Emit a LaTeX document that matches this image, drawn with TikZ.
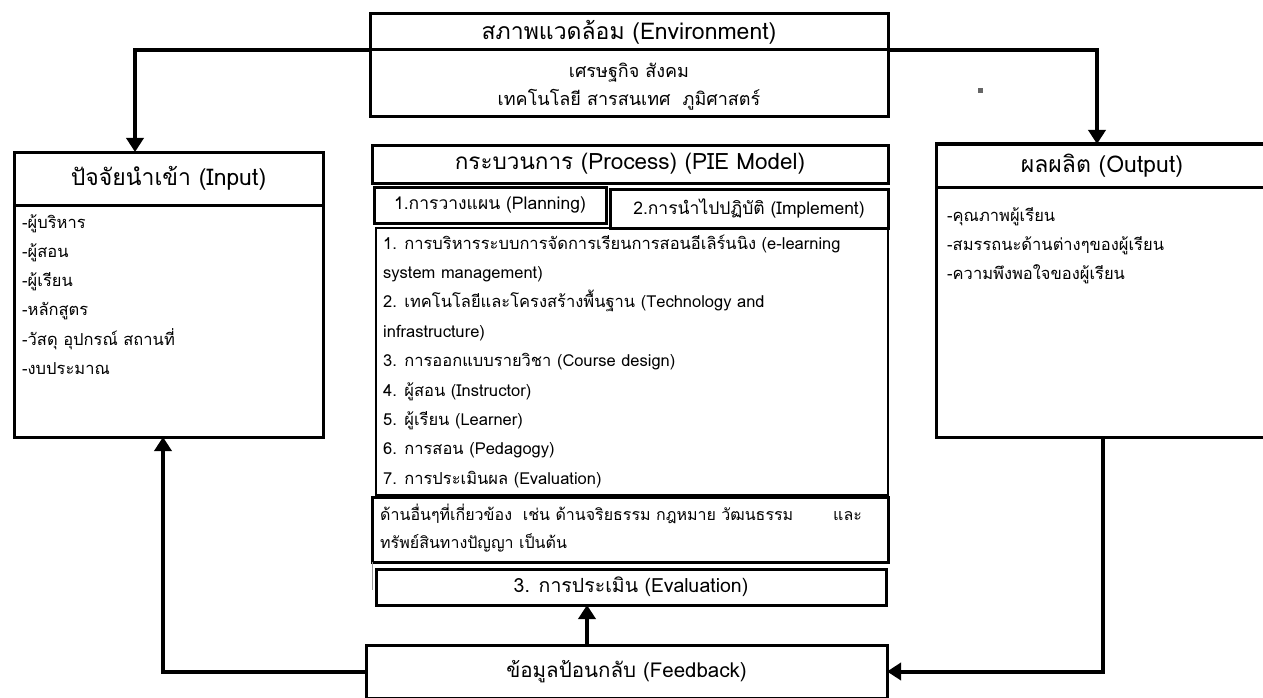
\documentclass[tikz,border=0pt]{standalone}
\usepackage{fontspec}
\setmainfont[Script=Thai]{Loma}
\usetikzlibrary{arrows.meta}
\begin{document}
\begin{tikzpicture}[x=1pt,y=-1pt,
  box/.style={draw, line width=3pt, inner sep=0pt, outer sep=0pt, anchor=north west, align=center},
  ttl/.style={font=\fontsize{23}{26}\selectfont},
  sub/.style={font=\fontsize{17.5}{20}\selectfont},
  itm/.style={font=\fontsize{16.5}{19}\selectfont, inner sep=0pt, anchor=base west},
  conn/.style={line width=4pt, -{Triangle[length=14pt,width=17pt]}}]
\useasboundingbox (0,0) rectangle (1263,698);
% environment
\node[box,ttl,minimum width=518pt,minimum height=36pt] (envT) at (370,14) {สภาพแวดล้อม (Environment)};
\node[box,minimum width=518pt,minimum height=67pt] (envB) at (370,50) {};
\node[font=\fontsize{18}{28}\selectfont,align=center,inner sep=0pt] (envTx) at (629,87) {เศรษฐกิจ สังคม\\เทคโนโลยี สารสนเทศ\ \ ภูมิศาสตร์};
% input
\node[box,ttl,minimum width=309pt,minimum height=53pt] (inT) at (14,152) {ปัจจัยนำเข้า (Input)};
\node[box,minimum width=309pt,minimum height=232pt] (inB) at (14,205) {};
% output
\node[box,ttl,minimum width=332pt,minimum height=43pt] (outT) at (936,144) {ผลผลิต (Output)};
\node[box,minimum width=332pt,minimum height=250pt] (outB) at (936,187) {};
% process
\node[box,ttl,font=\fontsize{22.5}{26}\selectfont,minimum width=516pt,minimum height=38pt] (procT) at (372,145) {กระบวนการ (Process) (PIE Model)};
\node[box,sub,minimum width=232pt,minimum height=36pt] (plan) at (374,187) {1.การวางแผน (Planning)};
\node[box,sub,minimum width=278pt,minimum height=39pt] (impl) at (610,189) {2.การนำไปปฏิบัติ (Implement)};
\node[box,line width=1.8pt,minimum width=512pt,minimum height=267pt] (cont) at (376,228) {};
\node[box,minimum width=516pt,minimum height=65pt] (oth) at (372,497) {};
\node[box,font=\fontsize{19.5}{22}\selectfont,minimum width=510pt,minimum height=36pt] (eval) at (376,569) {3. การประเมิน (Evaluation)};
% feedback
\node[box,font=\fontsize{20.5}{24}\selectfont,minimum width=521pt,minimum height=53pt] (fb) at (366,645) {ข้อมูลป้อนกลับ (Feedback)};
% list items
\foreach[count=\i] \t in {-ผู้บริหาร,-ผู้สอน,-ผู้เรียน,-หลักสูตร,-วัสดุ อุปกรณ์ สถานที่,-งบประมาณ}
  \node[itm] (in\i) at (22,{228+29.3*(\i-1)}) {\t};
\foreach[count=\i] \t in {-คุณภาพผู้เรียน,-สมรรถนะด้านต่างๆของผู้เรียน,-ความพึงพอใจของผู้เรียน}
  \node[itm] (out\i) at (947,{221+29.2*(\i-1)}) {\t};
\foreach[count=\i] \t in {1. การบริหารระบบการจัดการเรียนการสอนอีเลิร์นนิง (e-learning,
  system management),2. เทคโนโลยีและโครงสร้างพื้นฐาน (Technology and,infrastructure),
  3. การออกแบบรายวิชา (Course design),4. ผู้สอน (Instructor),5. ผู้เรียน (Learner),
  6. การสอน (Pedagogy),7. การประเมินผล (Evaluation)}
  \node[itm] (c\i) at (383,{249+29.4*(\i-1)}) {\t};
\node[itm,font=\fontsize{16}{19}\selectfont] (o1) at (380,520) {ด้านอื่นๆที่เกี่ยวข้อง\ \ เช่น ด้านจริยธรรม กฎหมาย วัฒนธรรม\hspace{2.5em}และ};
\node[itm,font=\fontsize{16}{19}\selectfont] (o2) at (380,548) {ทรัพย์สินทางปัญญา เป็นต้น};
% connectors
\coordinate (inIn) at (135,152);
\coordinate (outIn) at (1097,144);
\coordinate (inUp) at (163,437);
\coordinate (outDn) at (1103,437);
\coordinate (fbUp) at (587,645);
\coordinate (evDn) at (587,605);
\draw[conn] (envT.south west) -| (inIn);
\draw[conn] (envT.south east) -| (outIn);
\draw[conn] (fb.west) -| (inUp);
\draw[conn] (outDn) |- (fb.east);
\draw[conn] (fbUp) -- (evDn);
% stray marks
\fill[black!60] (978,88) rectangle (983,93);
\draw[black!40,line width=1pt] (372,562) -- (372,590);
\end{tikzpicture}
\end{document}
